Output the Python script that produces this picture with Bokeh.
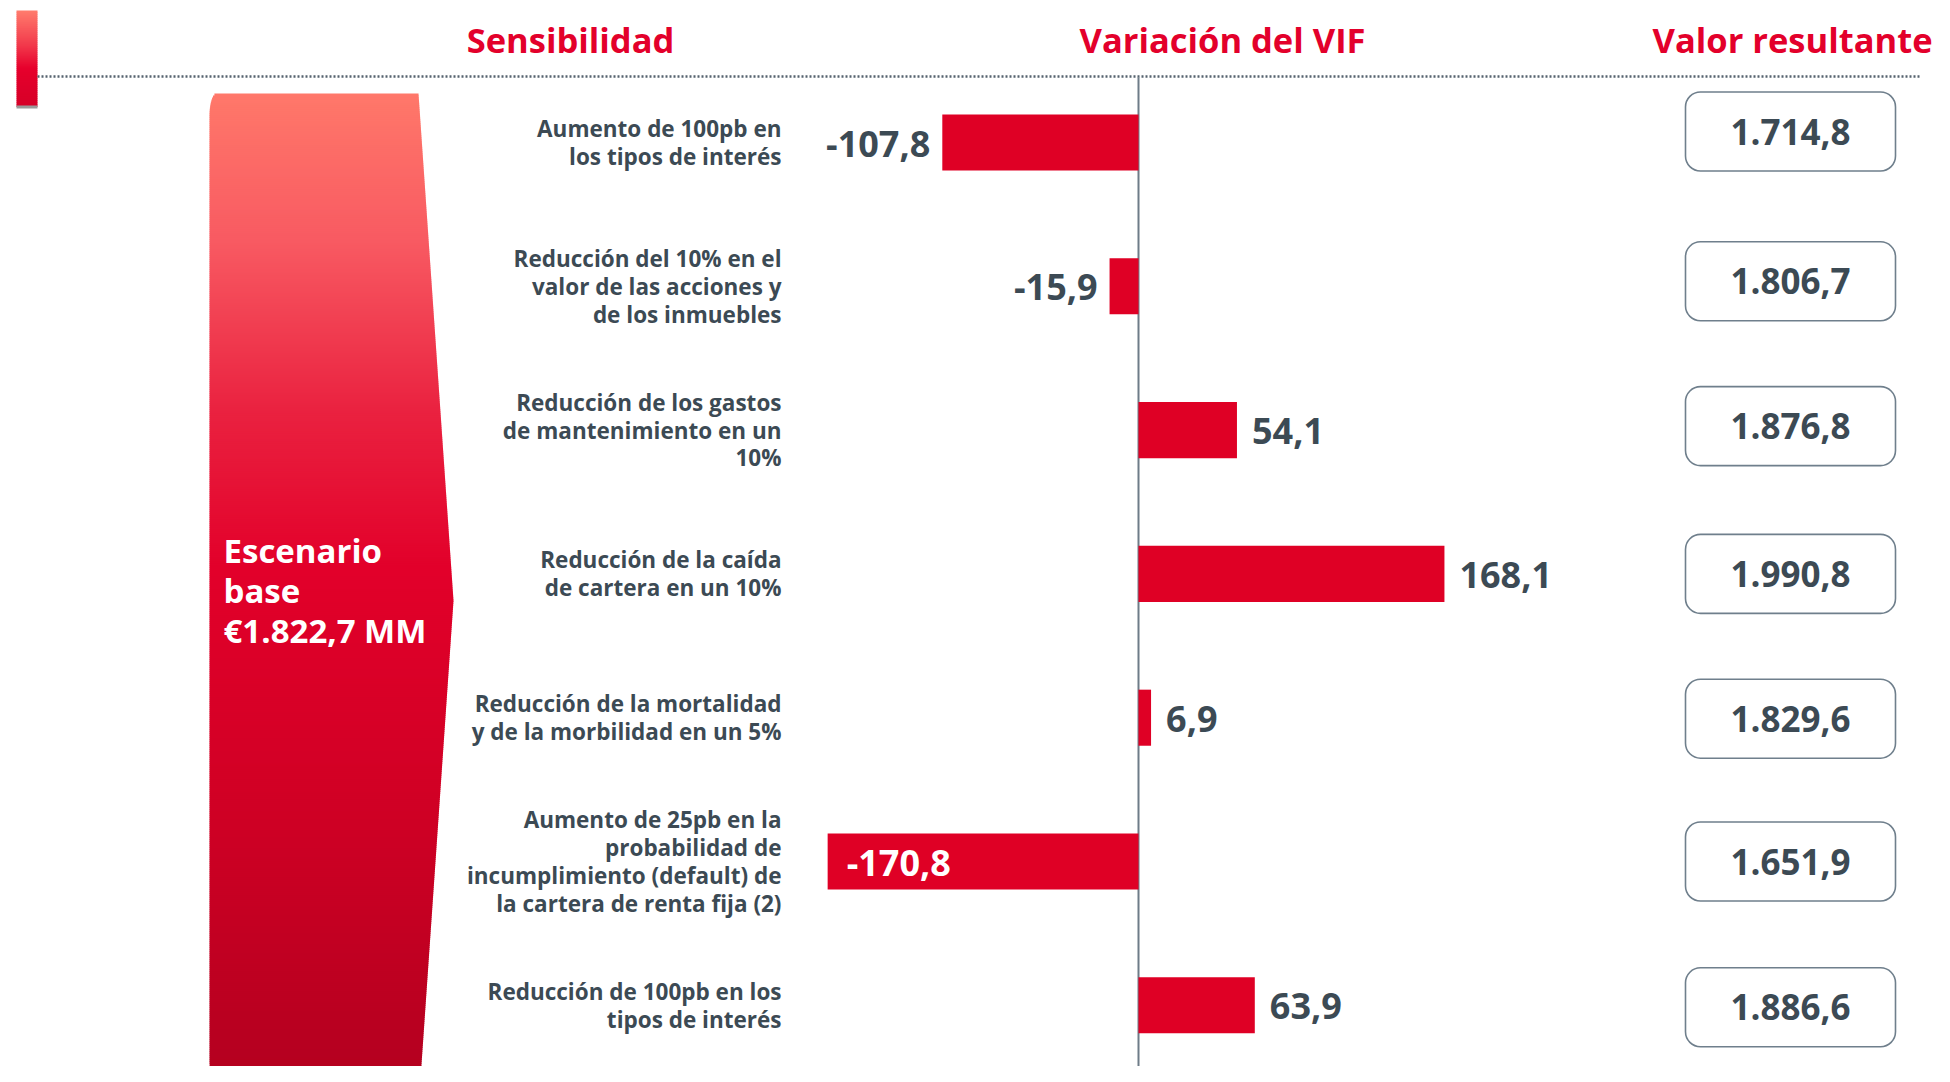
import numpy as np
from bokeh.plotting import figure
from bokeh.models import Range1d, ColumnDataSource
from bokeh.core.properties import value
from bokeh.embed import file_html
from bokeh.resources import INLINE

# ---------------- data ----------------
categories = [
    "Aumento de 100pb en\nlos tipos de interés",
    "Reducción del 10% en el\nvalor de las acciones y\nde los inmuebles",
    "Reducción de los gastos\nde mantenimiento en un\n10%",
    "Reducción de la caída\nde cartera en un 10%",
    "Reducción de la mortalidad\ny de la morbilidad en un 5%",
    "Aumento de 25pb en la\nprobabilidad de\nincumplimiento (default) de\nla cartera de renta fija (2)",
    "Reducción de 100pb en los\ntipos de interés",
]
variacion = [-107.8, -15.9, 54.1, 168.1, 6.9, -170.8, 63.9]
valor_resultante = [1714.8, 1806.7, 1876.8, 1990.8, 1829.6, 1651.9, 1886.6]
headers = ["Sensibilidad", "Variación del VIF", "Valor resultante"]
base_label = "Escenario\nbase\n€1.822,7 MM"

# ---------------- style ----------------
RED = "#E3002B"
BAR = "#DF0025"
DARK = "#3C4A54"
GRAYLINE = "#6E7C88"
FONT = value("Open Sans")
BOX_SHIFT_PX = [-11, -5, -4, 0, 1, 0, 2]   # small vertical nudges of the boxes

def es(v, thousands=False):
    s = f"{v:,.1f}" if thousands else f"{v:.1f}"
    return s.replace(",", "X").replace(".", ",").replace("X", ".")

rows = list(range(len(categories)))

W, H = 1934, 1066
PXU = 1.82          # pixels per unit of VIF variation
ZERO = 1138         # frame px of zero line
ROW0, ROWSTEP = 142, 143.8

p = figure(width=W, height=H,
           x_range=Range1d(-ZERO / PXU, (W - ZERO) / PXU),
           y_range=Range1d((H - ROW0) / ROWSTEP, -ROW0 / ROWSTEP),
           output_backend="svg", toolbar_location=None,
           x_axis_location=None, y_axis_location=None,
           min_border=0, background_fill_color="white",
           border_fill_color="white")
p.grid.visible = False
p.outline_line_color = None
# pixel ranges for decorations
p.extra_x_ranges = {"px": Range1d(0, W)}
p.extra_y_ranges = {"py": Range1d(H, 0)}

def lerp_color(stops, t):
    for (t0, c0), (t1, c1) in zip(stops[:-1], stops[1:]):
        if t <= t1:
            f = (t - t0) / (t1 - t0) if t1 > t0 else 0
            a = [int(c0[i:i + 2], 16) for i in (1, 3, 5)]
            b = [int(c1[i:i + 2], 16) for i in (1, 3, 5)]
            c = [round(a[k] + (b[k] - a[k]) * f) for k in range(3)]
            return "#%02x%02x%02x" % tuple(c)
    return stops[-1][1]

# ---------------- big gradient arrow shape ----------------
stops = [(0.0, "#FF786A"), (0.15, "#F85A62"), (0.32, "#EA2240"),
         (0.48, "#E2002A"), (0.7, "#D20025"), (1.0, "#B3001F")]
top_y, tip_y = 93, 600
lefts, rights, tops, bots, cols = [], [], [], [], []
step = 2
rx, ry = 7, 22
for y0 in np.arange(top_y, H, step):
    ym = y0 + step / 2
    right = 453 - 35 * abs(ym - tip_y) / (tip_y - top_y)
    d = ym - top_y
    off = 0
    if d < ry:
        off = rx * (1 - np.sqrt(max(0, 1 - ((ry - d) / ry) ** 2)))
    d2 = 1082 - ym
    if d2 < ry:
        off = rx * (1 - np.sqrt(max(0, 1 - ((ry - d2) / ry) ** 2)))
    lefts.append(209 + off)
    rights.append(right)
    tops.append(y0)
    bots.append(y0 + step + 0.6)
    cols.append(lerp_color(stops, (ym - top_y) / (1082 - top_y)))
p.quad(left=lefts, right=rights, top=tops, bottom=bots, fill_color=cols,
       line_color=None, x_range_name="px", y_range_name="py")

p.text(x=[223], y=[590], text=[base_label], text_color="white",
       text_font=FONT, text_font_style="bold", text_font_size="33px",
       text_align="left", text_baseline="middle", text_line_height=0.88,
       x_range_name="px", y_range_name="py")

# ---------------- small top-left bar ----------------
sstops = [(0.0, "#FF7A6C"), (0.35, "#F23A4C"), (0.6, "#E6002C"), (1.0, "#D60028")]
sl, sr, st, sb, sc = [], [], [], [], []
for y0 in np.arange(10, 105, 2):
    sl.append(16); sr.append(37); st.append(y0); sb.append(y0 + 2.6)
    sc.append(lerp_color(sstops, (y0 - 10) / 95))
p.quad(left=sl, right=sr, top=st, bottom=sb, fill_color=sc, line_color=None,
       x_range_name="px", y_range_name="py")
p.quad(left=[16], right=[37], top=[105], bottom=[108], fill_color="#9A9A9A",
       line_color=None, x_range_name="px", y_range_name="py")

# ---------------- headers and dotted rule ----------------
p.line(x=[37, 1921], y=[76, 76], line_color="#55626E", line_width=2.5,
       line_dash="2 2", x_range_name="px", y_range_name="py")
p.text(x=[570, 1222, 1792], y=[39, 39, 39], text=headers, text_color=RED,
       text_font=FONT, text_font_style="bold", text_font_size="34.5px",
       text_align="center", text_baseline="middle",
       x_range_name="px", y_range_name="py")

# ---------------- zero line ----------------
p.segment(x0=[0], x1=[0], y0=[77], y1=[1076], line_color=GRAYLINE,
          line_width=2, y_range_name="py")

# ---------------- bars ----------------
src = ColumnDataSource(dict(y=rows, v=variacion))
p.hbar(y="y", left=0, right="v", height=0.39, source=src,
       fill_color=BAR, line_color=None)

# ---------------- category labels ----------------
p.text(x=[781] * len(rows), y=rows, text=categories, text_color=DARK,
       text_font=FONT, text_font_style="bold", text_font_size="22.5px",
       text_align="right", text_baseline="middle", text_line_height=0.9,
       x_range_name="px")

# ---------------- value labels ----------------
lab_txt, lab_x, lab_align, lab_off, lab_col = [], [], [], [], []
for v in variacion:
    lab_txt.append(es(v))
    if v < -150:        # long bar: label inside, white
        lab_x.append(v); lab_align.append("left"); lab_off.append(19); lab_col.append("white")
    elif v < 0:
        lab_x.append(v); lab_align.append("right"); lab_off.append(-12); lab_col.append(DARK)
    else:
        lab_x.append(v); lab_align.append("left"); lab_off.append(15); lab_col.append(DARK)
vsrc = ColumnDataSource(dict(x=lab_x, y=rows, t=lab_txt, a=lab_align, o=lab_off, c=lab_col))
p.text(x="x", y="y", text="t", text_align="a", x_offset="o", text_color="c",
       y_offset=1, source=vsrc, text_font=FONT, text_font_style="bold",
       text_font_size="36px", text_baseline="middle")

# ---------------- result boxes ----------------
box_y = [r + s / ROWSTEP for r, s in zip(rows, BOX_SHIFT_PX)]
p.rect(x=[1790] * len(rows), y=box_y, width=210, height=79, height_units="screen",
       fill_color="white", line_color="#6F7F8C", line_width=1.6,
       border_radius=15, x_range_name="px")
p.text(x=[1790] * len(rows), y=box_y, text=[es(v, True) for v in valor_resultante],
       text_color=DARK, text_font=FONT, text_font_style="bold",
       text_font_size="35px", text_align="center", text_baseline="middle",
       x_range_name="px")

open("out.html", "w").write(file_html(p, INLINE))
